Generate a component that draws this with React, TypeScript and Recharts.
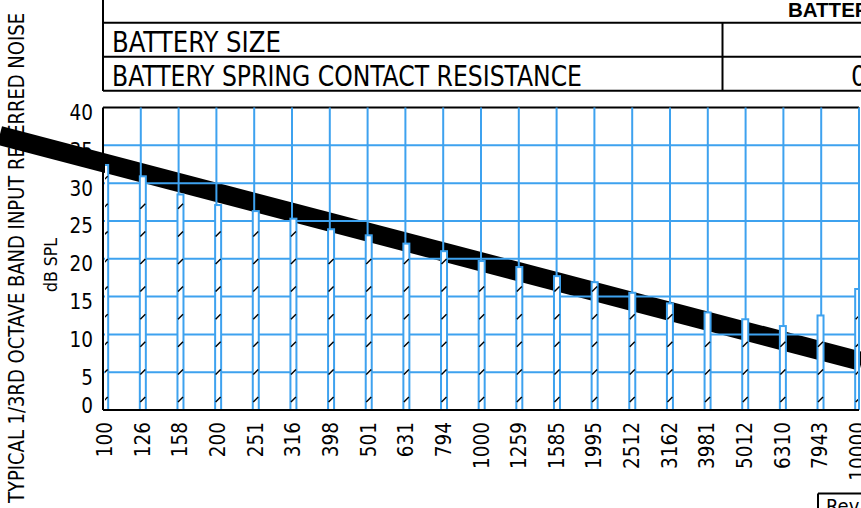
import React from 'react';
import { ComposedChart, Bar, XAxis, YAxis, CartesianGrid, ReferenceLine } from 'recharts';

const FREQ_LABELS = ['100', '126', '158', '200', '251', '316', '398', '501', '631', '794', '1000', '1259', '1585', '1995', '2512', '3162', '3981', '5012', '6310', '7943', '10000'];
const NOISE_DB = [32.4, 30.9, 28.5, 27.1, 26.3, 25.3, 23.9, 23.1, 22.0, 21.0, 19.7, 18.9, 17.7, 16.9, 15.5, 14.1, 12.9, 12.0, 11.1, 12.5, 16.0];
const DB_TICKS = [0, 5, 10, 15, 20, 25, 30, 35, 40];
const GRID_ROWS = [5, 10, 15, 20, 25, 30, 35];
const GRID_COLS = [1, 2, 3, 4, 5, 6, 7, 8, 9, 10, 11, 12, 13, 14, 15, 16, 17, 18, 19, 20];
// limit band, read at the left and right page edges (band index units)
const LIMIT_BAND = [-2.8, 20.1];
const LIMIT_DB = [36.3, 6.4];

const BLUE = '#3ea2ef';
const FONT = "'Liberation Sans Narrow', 'DejaVu Sans Condensed', 'Liberation Sans', sans-serif";

const data = FREQ_LABELS.map((freq, i) => ({ band: i, freq, noise: NOISE_DB[i] }));

const HatchedBar = (props: any) => {
  const { x, y, width, height } = props;
  const hatches = [];
  for (let yb = y + height - 8; yb - 6 > y + 3; yb -= 27.6) {
    hatches.push(
      <line key={yb} x1={x + 0.5} y1={yb} x2={x + width - 0.5} y2={yb - 5} stroke="#000" strokeWidth={1.4} />
    );
  }
  return (
    <g>
      <rect x={x} y={y} width={width} height={height} fill="#fff" stroke={BLUE} strokeWidth={2} />
      {hatches}
    </g>
  );
};

const YTick = ({ x, y, payload }: any) => (
  <text x={x} y={y + (payload.value === 0 ? -4.5 : 5.5)} textAnchor="end" dominantBaseline="central"
    fontFamily={FONT} fontSize={20.5} fill="#000">
    {payload.value}
  </text>
);

const XTick = ({ x, y, payload }: any) => (
  <text x={x} y={y} transform={`rotate(-90, ${x}, ${y})`} textAnchor="end" dominantBaseline="central"
    fontFamily={FONT} fontSize={20.5} fill="#000">
    {FREQ_LABELS[payload.value]}
  </text>
);

const Sheet = () => (
  <svg width={861} height={508} style={{ position: 'absolute', left: 0, top: 0 }}>
    <g stroke="#000" strokeWidth={2}>
      <line x1={103} y1={0} x2={103} y2={91} />
      <line x1={103} y1={22.7} x2={861} y2={22.7} />
      <line x1={103} y1={56.7} x2={861} y2={56.7} />
      <line x1={103} y1={90.7} x2={861} y2={90.7} />
      <line x1={722.5} y1={22.7} x2={722.5} y2={90.7} />
      <line x1={103} y1={107.5} x2={859} y2={107.5} />
      <line x1={859} y1={107.5} x2={859} y2={410} />
      <line x1={818} y1={493.5} x2={861} y2={493.5} />
      <line x1={818} y1={493.5} x2={818} y2={508} />
    </g>
    <g fontFamily={FONT} fill="#000">
      <text x={788} y={16.7} fontFamily="'Liberation Sans', sans-serif" fontWeight="bold" fontSize={20.5}>BATTERY</text>
      <text x={112} y={51.7} fontSize={27.5} textLength={169} lengthAdjust="spacingAndGlyphs">BATTERY SIZE</text>
      <text x={112} y={85.7} fontSize={27.5} textLength={470} lengthAdjust="spacingAndGlyphs">BATTERY SPRING CONTACT RESISTANCE</text>
      <text x={851} y={85.7} fontSize={27.5}>0</text>
      <text x={826} y={512.5} fontSize={20}>Rev</text>
      <text x={24} y={258} transform="rotate(-90, 24, 258)" textAnchor="middle" fontSize={22}
        textLength={490} lengthAdjust="spacingAndGlyphs">TYPICAL 1/3RD OCTAVE BAND INPUT REFERRED NOISE</text>
      <text x={57} y={265} transform="rotate(-90, 57, 265)" textAnchor="middle" fontSize={18}
        textLength={54} lengthAdjust="spacingAndGlyphs">dB SPL</text>
    </g>
  </svg>
);

export default function App() {
  return (
    <div style={{ position: 'absolute', left: 0, top: 0, width: 861, height: 508, background: '#fff', overflow: 'hidden' }}>
      <Sheet />
      <div style={{ position: 'absolute', left: 0, top: 0 }}>
        <ComposedChart width={861} height={508} data={data} margin={{ top: 107.5, right: 2, bottom: 38, left: 43 }}>
          <XAxis xAxisId="grid" type="number" domain={[0, 21]} allowDataOverflow hide />
          <XAxis dataKey="band" type="number" domain={[0, 20]} ticks={FREQ_LABELS.map((_, i) => i)} interval={0}
            padding={{ left: 2, right: 1 }} height={60} tick={<XTick />} tickLine={false} tickSize={0} tickMargin={12}
            axisLine={{ stroke: '#000', strokeWidth: 2 }} allowDataOverflow />
          <YAxis domain={[0, 40]} ticks={DB_TICKS} interval={0} width={60} tick={<YTick />} tickLine={false}
            tickSize={0} tickMargin={10} axisLine={{ stroke: '#000', strokeWidth: 2 }} allowDataOverflow />
          <ReferenceLine
            segment={[{ x: LIMIT_BAND[0], y: LIMIT_DB[0] }, { x: LIMIT_BAND[1], y: LIMIT_DB[1] }]}
            stroke="#000" strokeWidth={19} ifOverflow="visible" zIndex={-150}
          />
          <CartesianGrid xAxisId="grid" stroke={BLUE} strokeWidth={2} strokeOpacity={1}
            horizontalValues={GRID_ROWS} verticalValues={GRID_COLS} />
          <Bar dataKey="noise" barSize={6} fill="#fff" stroke={BLUE} strokeWidth={2} shape={HatchedBar} isAnimationActive={false} />
        </ComposedChart>
      </div>
    </div>
  );
}
